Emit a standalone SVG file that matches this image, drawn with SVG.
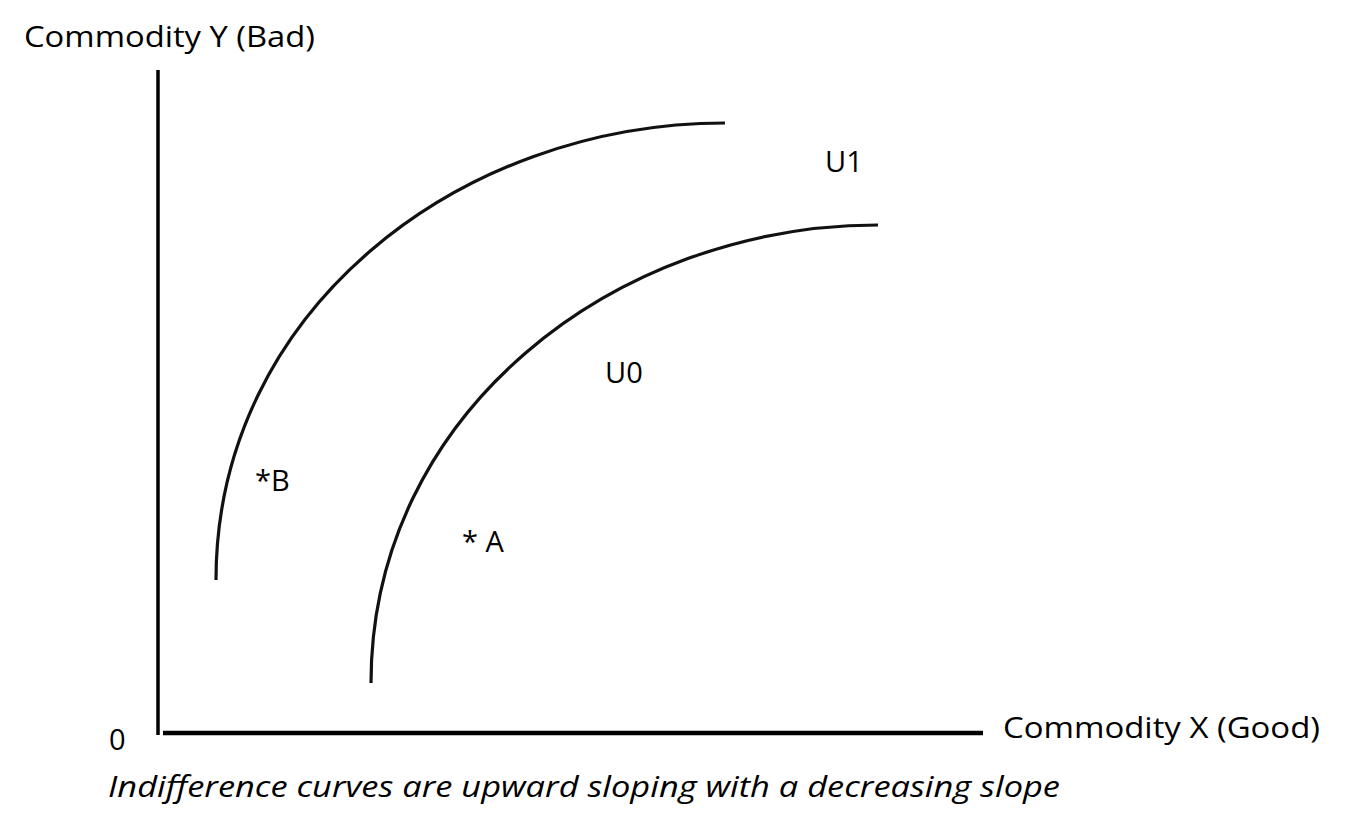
<svg xmlns="http://www.w3.org/2000/svg" width="1345" height="832" viewBox="0 0 1345 832">
<style>
text{font-family:"Open Sans","Noto Sans","Liberation Sans",sans-serif;font-size:29px;fill:#000}
.ax{stroke:#000;fill:none}
.curve{stroke:#111;stroke-width:3.2;fill:none}
</style>
<rect width="1345" height="832" fill="#fff"/>
<g id="axes">
<line class="ax" x1="158" y1="70" x2="158" y2="735" stroke-width="3.5"/>
<line class="ax" x1="163" y1="733" x2="983" y2="733" stroke-width="4.5"/>
</g>
<g id="connectors">
<path id="U1-curve" class="curve" d="M216,580 C216,310 460,123 725,123"/>
<path id="U0-curve" class="curve" d="M371,683 C371,413 615,225 878,225"/>
</g>
<g id="labels">
<text x="24" y="47" textLength="291" lengthAdjust="spacingAndGlyphs">Commodity Y (Bad)</text>
<text x="1003" y="738" textLength="317" lengthAdjust="spacingAndGlyphs">Commodity X (Good)</text>
<text x="109" y="750">0</text>
<text x="108" y="797" font-style="italic" textLength="952" lengthAdjust="spacingAndGlyphs">Indifference curves are upward sloping with a decreasing slope</text>
<text x="825" y="172">U1</text>
<text x="605" y="383">U0</text>
<text x="255" y="491">*B</text>
<text x="462" y="552">* A</text>
</g>
</svg>
